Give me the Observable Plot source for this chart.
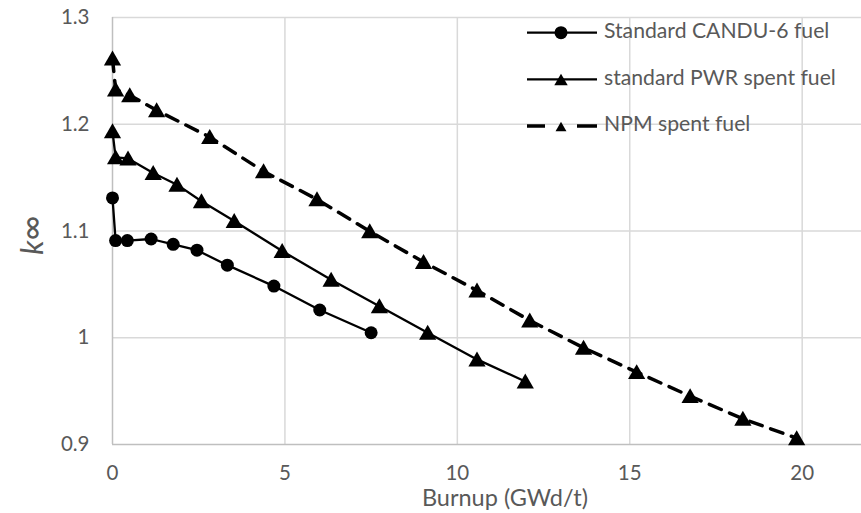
<!DOCTYPE html>
<html>
<head>
<meta charset="utf-8">
<script src="https://cdn.jsdelivr.net/npm/d3@7"></script>
<script src="https://cdn.jsdelivr.net/npm/@observablehq/plot@0.6"></script>
<style>
  html, body { margin: 0; padding: 0; background: #fff; }
  #chart { position: relative; width: 861px; height: 513px; }
  svg { font-family: Lato, "Open Sans", sans-serif; }
</style>
</head>
<body>
<div id="chart"></div>
<script>
// ---- data ----
const burnupCANDU = [0, 0.09, 0.43, 1.12, 1.76, 2.45, 3.33, 4.68, 6.01, 7.5];
const kCANDU      = [1.131, 1.091, 1.091, 1.0925, 1.0875, 1.082, 1.068, 1.0484, 1.026, 1.0047];

const burnupPWR = [0, 0.09, 0.45, 1.18, 1.87, 2.58, 3.53, 4.92, 6.34, 7.74, 9.14, 10.57, 11.97];
const kPWR      = [1.1934, 1.169, 1.168, 1.1543, 1.1434, 1.1278, 1.1093, 1.0812, 1.0544, 1.0296, 1.0047, 0.9797, 0.959];

const burnupNPM = [0, 0.09, 0.5, 1.28, 2.82, 4.38, 5.93, 7.46, 9.02, 10.57, 12.1, 13.66, 15.2, 16.75, 18.28, 19.84];
const kNPM      = [1.2616, 1.2325, 1.2272, 1.2131, 1.188, 1.1559, 1.1297, 1.0997, 1.0709, 1.0443, 1.0162, 0.9906, 0.9678, 0.9453, 0.9241, 0.9059];

const seriesNames = ["Standard CANDU-6 fuel", "standard PWR spent fuel", "NPM spent fuel"];
const xTicks = [0, 5, 10, 15, 20];
const yTicks = [0.9, 1.0, 1.1, 1.2, 1.3];
const xLabel = "Burnup (GWd/t)";

const toRows = (xs, ys) => xs.map((x, i) => ({x, y: ys[i]}));
const candu = toRows(burnupCANDU, kCANDU);
const pwr = toRows(burnupPWR, kPWR);
const npm = toRows(burnupNPM, kNPM);

const textColor = "#595959";
const W = 861, H = 513;
const triR = 6.4;

const plot = Plot.plot({
  width: W,
  height: H,
  marginLeft: 112,
  marginRight: 0,
  marginTop: 17,
  marginBottom: 69,
  style: {fontFamily: "Lato, 'Open Sans', sans-serif", fontSize: "20px", color: textColor, background: "#fff"},
  x: {domain: [0, 21.72], ticks: xTicks},
  y: {domain: [0.9, 1.3], ticks: yTicks},
  marks: [
    Plot.ruleY(yTicks.filter(d => d > 0.9), {stroke: "#d9d9d9", strokeWidth: 1.5}),
    Plot.ruleX(xTicks.filter(d => d > 0), {stroke: "#d9d9d9", strokeWidth: 1.5}),
    Plot.ruleX([0], {stroke: "#bfbfbf", strokeWidth: 1.5}),
    Plot.ruleY([0.9], {stroke: "#bfbfbf", strokeWidth: 1.5}),
    Plot.axisX({ticks: xTicks, tickSize: 0, tickPadding: 21, label: null, fill: textColor, fontSize: 20.5}),
    Plot.axisY({ticks: yTicks, tickSize: 0, tickPadding: 23, label: null, fill: textColor, fontSize: 20.5,
      tickFormat: d => String(+d.toFixed(1))}),
    Plot.line(npm, {x: "x", y: "y", stroke: "black", strokeWidth: 3.5, strokeDasharray: "13,9"}),
    Plot.line(pwr, {x: "x", y: "y", stroke: "black", strokeWidth: 2.3}),
    Plot.line(candu, {x: "x", y: "y", stroke: "black", strokeWidth: 2.3}),
    Plot.dot(npm, {x: "x", y: "y", symbol: "triangle", r: triR, dy: 2, fill: "black", stroke: "none"}),
    Plot.dot(pwr, {x: "x", y: "y", symbol: "triangle", r: triR, dy: 2, fill: "black", stroke: "none"}),
    Plot.dot(candu, {x: "x", y: "y", symbol: "circle", r: 6.5, fill: "black", stroke: "none"})
  ]
});

document.getElementById("chart").appendChild(plot);

// ---- labels and legend ----
const svg = d3.select(plot);
svg.append("text")
  .attr("x", 505).attr("y", 506)
  .attr("text-anchor", "middle")
  .attr("fill", textColor).attr("font-size", 23.5)
  .text(xLabel);

const yl = svg.append("text")
  .attr("transform", "translate(43,235) rotate(-90)")
  .attr("text-anchor", "middle")
  .attr("fill", textColor).attr("font-size", 30);
yl.append("tspan").attr("font-style", "italic").text("k");
yl.append("tspan").attr("font-size", 34).text("∞");

const legendRows = [
  {name: seriesNames[0], symbol: d3.symbolCircle, size: Math.PI * 6.5 * 6.5, dash: null, sw: 2.3},
  {name: seriesNames[1], symbol: d3.symbolTriangle2, size: Math.PI * triR * triR, dash: null, sw: 2.3},
  {name: seriesNames[2], symbol: d3.symbolTriangle2, size: Math.PI * 5.2 * 5.2, dash: "18,32,20", sw: 3.5}
];
const lg = svg.append("g");
legendRows.forEach((r, i) => {
  const cy = 32.7 + i * 46.7;
  const g = lg.append("g").attr("transform", `translate(0,${cy})`);
  g.append("line").attr("x1", 527).attr("x2", 597).attr("y1", 0).attr("y2", 0)
    .attr("stroke", "black").attr("stroke-width", r.sw)
    .attr("stroke-dasharray", r.dash);
  g.append("path").attr("d", d3.symbol(r.symbol, r.size)())
    .attr("transform", `translate(561,${r.symbol === d3.symbolCircle ? 0 : 2})`)
    .attr("fill", "black");
  g.append("text").attr("x", 604).attr("y", 0)
    .attr("text-anchor", "start")
    .attr("dominant-baseline", "middle")
    .attr("fill", textColor).attr("font-size", 21.2)
    .text(r.name);
});
</script>
</body>
</html>
